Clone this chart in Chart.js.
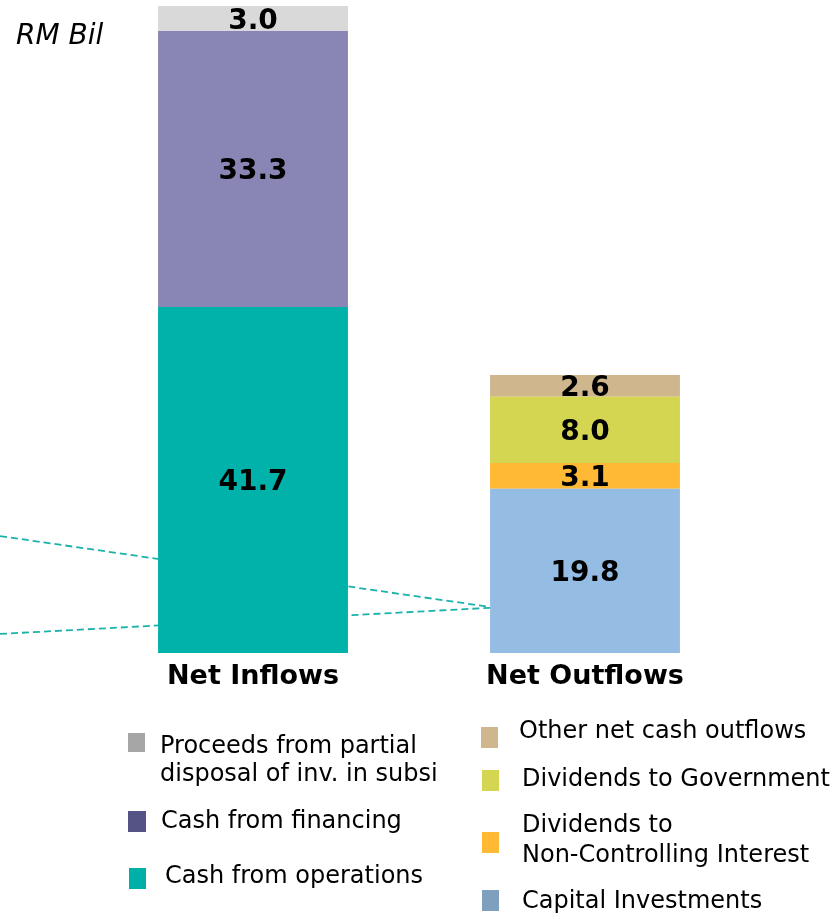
<!DOCTYPE html>
<html>
<head>
<meta charset="utf-8">
<title>Cash flow – net inflows and outflows</title>
<script src="https://cdn.jsdelivr.net/npm/chart.js@4/dist/chart.umd.min.js"></script>
<style>
  html, body { margin: 0; padding: 0; background: #ffffff; }
  #wrap { position: relative; width: 836px; height: 919px; }
</style>
</head>
<body>
<div id="wrap"><canvas id="cashChart" width="836" height="919"></canvas></div>
<script>
// Categories on the x axis
const categories = ['Net Inflows', 'Net Outflows'];

// Series values (RM billion), one slot per category
const cashFromOperations   = [41.7, null];
const cashFromFinancing    = [33.3, null];
const proceedsFromDisposal = [3.0, null];
const capitalInvestments   = [null, 19.8];
const dividendsToNCI       = [null, 3.1];
const dividendsToGovt      = [null, 8.0];
const otherNetOutflows     = [null, 2.6];

// Series names and colours (bars / legend swatches)
const seriesNames = [
  'Cash from operations',
  'Cash from financing',
  'Proceeds from partial disposal of inv. in subsi',
  'Capital Investments',
  'Dividends to Non-Controlling Interest',
  'Dividends to Government',
  'Other net cash outflows'
];
const barColors    = ['#00B2AA', '#8986B5', '#D9D9D9', '#95BDE4', '#FFB935', '#D4D550', '#CFB68C'];
const swatchColors = ['#00B0A8', '#555385', '#A6A6A6', '#7F9FBF', '#FFB935', '#D4D550', '#CFB68C'];

// Legend text, split into the lines it is printed on
const legendLines = [
  ['Cash from operations'],
  ['Cash from financing'],
  ['Proceeds from partial', 'disposal of inv. in subsi'],
  ['Capital Investments'],
  ['Dividends to', 'Non-Controlling Interest'],
  ['Dividends to Government'],
  ['Other net cash outflows']
];

// Dashed guide lines running in from the left towards the outflow bar
// (x in category units, y in RM billion)
const guideX     = [-0.762, 0.714];
const guideUpper = [14.1, 5.55];
const guideLower = [2.3, 5.45];

const unitLabel = 'RM Bil';
const yMax = 78;

const seriesValues = [
  cashFromOperations, cashFromFinancing, proceedsFromDisposal,
  capitalInvestments, dividendsToNCI, dividendsToGovt, otherNetOutflows
];

const barDatasets = seriesValues.map((vals, i) => ({
  type: 'bar',
  label: seriesNames[i],
  data: vals,
  stack: 'flows',
  grouped: false,
  backgroundColor: barColors[i],
  borderWidth: 0,
  xAxisID: 'x',
  yAxisID: 'y',
  order: 0,
  barPercentage: 0.572,
  categoryPercentage: 1.0
}));

function guideDataset(ys, name) {
  return {
    type: 'line',
    label: name,
    data: guideX.map((x, i) => ({ x: x, y: ys[i] })),
    xAxisID: 'xl',
    yAxisID: 'yl',
    borderColor: '#1AB3AB',
    borderWidth: 1.8,
    borderDash: [7, 4],
    pointRadius: 0,
    fill: false,
    tension: 0,
    clip: false,
    order: 1
  };
}

// Value labels centred in each bar segment
const valueLabels = {
  id: 'valueLabels',
  afterDatasetsDraw(chart) {
    const ctx = chart.ctx;
    const size = 28;
    ctx.save();
    ctx.font = 'bold ' + size + 'px "DejaVu Sans"';
    ctx.fillStyle = '#000000';
    ctx.textAlign = 'center';
    ctx.textBaseline = 'alphabetic';
    chart.data.datasets.forEach((ds, i) => {
      if (ds.type !== 'bar') return;
      const meta = chart.getDatasetMeta(i);
      meta.data.forEach((bar, j) => {
        const v = ds.data[j];
        if (v === null || v === undefined) return;
        const p = bar.getProps(['x', 'y', 'base'], true);
        ctx.fillText(v.toFixed(1), p.x, (p.y + p.base) / 2 + size * 0.365);
      });
    });
    ctx.restore();
  }
};

// Unit caption and the two-column legend under the bars
const captionAndLegend = {
  id: 'captionAndLegend',
  afterDraw(chart) {
    const ctx = chart.ctx;
    ctx.save();
    ctx.fillStyle = '#000000';
    ctx.textAlign = 'left';
    ctx.textBaseline = 'alphabetic';
    ctx.font = 'italic 28px "DejaVu Sans"';
    ctx.fillText(unitLabel, 16, 44);

    // [series index, swatch x, swatch y, swatch w, swatch h, text x, first baseline, line gap]
    const layout = [
      [2, 128, 733, 17, 19, 160, 752.5, 28.5],
      [1, 128, 811, 18, 21, 161, 827.5, 0],
      [0, 129, 868, 17, 21, 165, 882.5, 0],
      [6, 481, 727, 17, 21, 519, 737.5, 0],
      [5, 482, 770, 17, 21, 522, 786, 0],
      [4, 482, 832, 17, 21, 522, 831.5, 30],
      [3, 482, 890, 17, 21, 522, 908, 0]
    ];
    ctx.font = '24px "DejaVu Sans"';
    layout.forEach(([idx, sx, sy, sw, sh, tx, by, gap]) => {
      ctx.fillStyle = swatchColors[idx];
      ctx.fillRect(sx, sy, sw, sh);
      ctx.fillStyle = '#000000';
      legendLines[idx].forEach((line, k) => {
        ctx.fillText(line, tx, by + k * gap);
      });
    });
    ctx.restore();
  }
};

new Chart(document.getElementById('cashChart'), {
  data: {
    labels: categories,
    datasets: [
      ...barDatasets,
      guideDataset(guideUpper, 'guide upper'),
      guideDataset(guideLower, 'guide lower')
    ]
  },
  options: {
    responsive: false,
    animation: false,
    devicePixelRatio: 1,
    layout: { padding: { left: 87, right: 85, top: 6, bottom: 226 } },
    plugins: {
      legend: { display: false },
      tooltip: { enabled: false }
    },
    scales: {
      x: {
        type: 'category',
        stacked: true,
        offset: true,
        grid: { display: false, drawTicks: false },
        border: { display: false },
        ticks: {
          color: '#000000',
          padding: 8,
          font: { family: 'DejaVu Sans', size: 27, weight: 'bold' }
        },
        afterFit(scale) { scale.height = 40; }
      },
      xl: { type: 'linear', display: false, min: -0.5, max: 1.5 },
      y: { stacked: true, display: false, min: 0, max: yMax },
      yl: { type: 'linear', display: false, min: 0, max: yMax }
    }
  },
  plugins: [valueLabels, captionAndLegend]
});
</script>
</body>
</html>
